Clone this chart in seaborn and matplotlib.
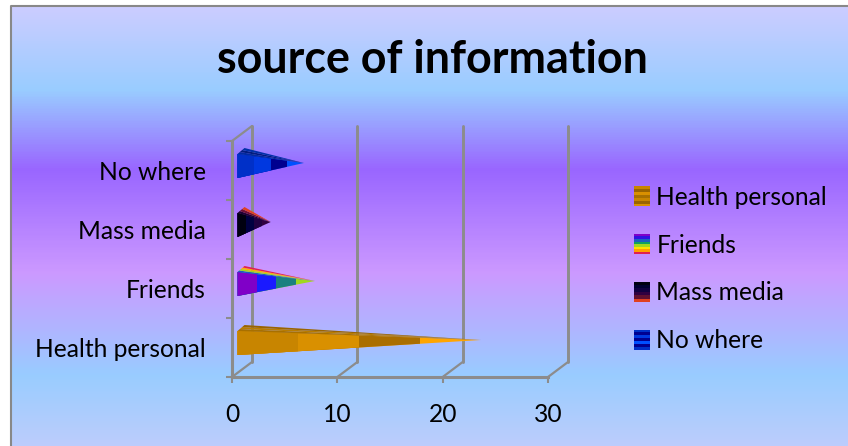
import numpy as np
import pandas as pd
import matplotlib
matplotlib.use("Agg")
import matplotlib.pyplot as plt
import seaborn as sns
from matplotlib.colors import LinearSegmentedColormap
from matplotlib.legend_handler import HandlerBase
from matplotlib.patches import Patch, Polygon, Rectangle

categories = ["No where", "Mass media", "Friends", "Health personal"]
values = [6, 3, 7, 22]
legend_order = ["Health personal", "Friends", "Mass media", "No where"]
x_ticks = [0, 10, 20, 30]

# side colours of the cone, base to tip
band_colors = {
    "No where": ["#0030c8", "#0038e0", "#000090", "#0050ff"],
    "Mass media": ["#000010", "#000040", "#200040", "#300040"],
    "Friends": ["#8000c8", "#1a1aff", "#1a8080", "#a0d820"],
    "Health personal": ["#c88500", "#d99000", "#aa6e00", "#ffa500"],
}
# stripes of the top face, front to back
top_colors = {
    "No where": ["#002aa0", "#001c80", "#0030a8"],
    "Mass media": ["#200030", "#701030", "#e04020"],
    "Friends": ["#1a60c0", "#a0d820", "#ffb000", "#e02050"],
    "Health personal": ["#a87000", "#b87c00", "#9a6400"],
}
legend_colors = {
    "Health personal": ["#c88500", "#9a6400", "#d99000", "#a87000", "#c88500", "#9a6400", "#d99000"],
    "Friends": ["#8000c8", "#3010e0", "#1a60c0", "#10a060", "#a0d820", "#ffe000", "#ffa000", "#e02050"],
    "Mass media": ["#000010", "#000030", "#100040", "#300040", "#601030", "#e04020"],
    "No where": ["#0030c8", "#000090", "#0038e0", "#000090", "#0050ff", "#000090", "#0030c8"],
}
# share of the cone length at the end of each band, base to tip
band_edges = [0.25, 0.5, 0.75, 1.0]

W, H = 848, 446
GRID = "#8c8c8c"
sns.set_theme(style="white")
plt.rcParams["font.family"] = ["Lato", "DejaVu Sans"]

fig = plt.figure(figsize=(W / 100, H / 100), dpi=100)
fig.patch.set_facecolor("white")

# gradient background with the grey frame (no right edge in the original)
bg = fig.add_axes([0, 0, 1, 1], zorder=0)
stops = [(0.0, "#ccccff"), (0.19, "#99ccff"), (0.37, "#9966ff"),
         (0.606, "#cc99ff"), (0.84, "#99ccff"), (1.0, "#bcccfc")]
cmap = LinearSegmentedColormap.from_list("bg", stops)
bg.imshow(np.linspace(0, 1, 440)[:, None], cmap=cmap, aspect="auto", extent=(11, W, 446, 6), zorder=0)
bg.plot([W, 11, 11], [6, 6, 446], color="#888888", lw=1.5, zorder=1)
bg.set_xlim(0, W)
bg.set_ylim(H, 0)
bg.axis("off")

# axes box is the floor/left wall of the 3D frame
ax = fig.add_axes([232 / W, 1 - 377 / H, 316 / W, 236 / H], zorder=2)
ax.patch.set_alpha(0)
px_x = 30 / 316
px_y = 4 / 236

df = pd.DataFrame({"source": categories, "value": values})
depth_x = 5.5 * px_x
bar_height = 24 * px_y
# the tips come forward a bit in the 3D view
persp = 1.05

# one seaborn bar layer per band, longest first, clipped to the cone afterwards
for k in reversed(range(len(band_edges))):
    layer = df.assign(length=depth_x + df["value"] * persp * band_edges[k])
    before = len(ax.patches)
    sns.barplot(data=layer, x="length", y="source", order=categories, orient="h",
                width=bar_height, color="white", saturation=1, ax=ax, zorder=2)
    for bar, cat, val in zip(ax.patches[before:], categories, values):
        bar.set_facecolor(band_colors[cat][k])
        bar.set_edgecolor("none")
        i = categories.index(cat)
        yc = i - 4.5 * px_y
        cone = Polygon([(depth_x, yc - bar_height / 2), (depth_x, yc + bar_height / 2),
                        (depth_x + val * persp, yc - 3 * px_y)], transform=ax.transData)
        bar.set_y(yc - bar_height / 2)
        bar.set_clip_path(cone)

# top face of each cone
for i, (cat, val) in enumerate(zip(categories, values)):
    yc = i - 4.5 * px_y
    front = np.array([depth_x, yc - bar_height / 2])
    back = np.array([depth_x + 7 * px_x, yc - bar_height / 2 - 6 * px_y])
    tip = np.array([depth_x + val * persp, yc - 3 * px_y])
    cols = top_colors[cat]
    for j, c in enumerate(cols):
        a = front + (back - front) * j / len(cols)
        b = front + (back - front) * (j + 1) / len(cols)
        ax.fill([a[0], b[0], tip[0]], [a[1], b[1], tip[1]], color=c, lw=0, zorder=3)

# back wall, depth lines and the frame
off_x = 20 * px_x
off_y = 15 * px_y
y_bottom, y_top = 3.5, -0.5
for t in x_ticks:
    ax.plot([t + off_x, t + off_x], [y_bottom - off_y, y_top - off_y], color=GRID, lw=2.1,
            clip_on=False, zorder=1)
    ax.plot([t, t + off_x], [y_bottom, y_bottom - off_y], color=GRID, lw=1.6, clip_on=False, zorder=1)
ax.plot([0, off_x], [y_top, y_top - off_y], color=GRID, lw=1.6, clip_on=False, zorder=1)

ax.set_xlim(0, 30)
ax.set_ylim(y_bottom, y_top)
ax.set_xticks(x_ticks)
ax.set_yticks(np.arange(-0.5, 4, 1), minor=True)
ax.set_yticks(range(len(categories)))
ax.set_yticklabels(categories)
ax.set_xlabel("")
ax.set_ylabel("")
ax.tick_params(axis="y", which="major", length=0, pad=26 * 0.72, labelsize=17.7, labelcolor="black")
ax.tick_params(axis="y", which="minor", length=4, width=1.5, color=GRID, left=True)
ax.tick_params(axis="x", length=4.5, width=1.5, color=GRID, pad=14, labelsize=17.7, labelcolor="black", bottom=True)
for side in ["top", "right"]:
    ax.spines[side].set_visible(False)
for side in ["left", "bottom"]:
    ax.spines[side].set_color(GRID)
    ax.spines[side].set_linewidth(2.2)

fig.text(432.5 / W, 1 - 60 / H, "source of information", ha="center", va="center",
         fontsize=32.3, fontweight="bold", color="black")


class StripeHandler(HandlerBase):
    def create_artists(self, legend, orig_handle, xdescent, ydescent, width, height, fontsize, trans):
        cols = legend_colors[orig_handle.get_label()]
        h = height / len(cols)
        return [Rectangle((-xdescent, -ydescent + height - h * (n + 1)), width, h * 1.02,
                          fc=c, ec="none", transform=trans) for n, c in enumerate(cols)]


handles = [Patch(label=name) for name in legend_order]
ax.legend(handles=handles, handler_map={Patch: StripeHandler()}, frameon=False,
          loc="center left", bbox_to_anchor=(634 / W, 1 - 269 / H), bbox_transform=fig.transFigure,
          fontsize=17.7, borderpad=0, borderaxespad=0, labelspacing=1.01,
          handlelength=0.65, handleheight=0.9, handletextpad=0.26, labelcolor="black")

fig.savefig("out.png", dpi=100)
